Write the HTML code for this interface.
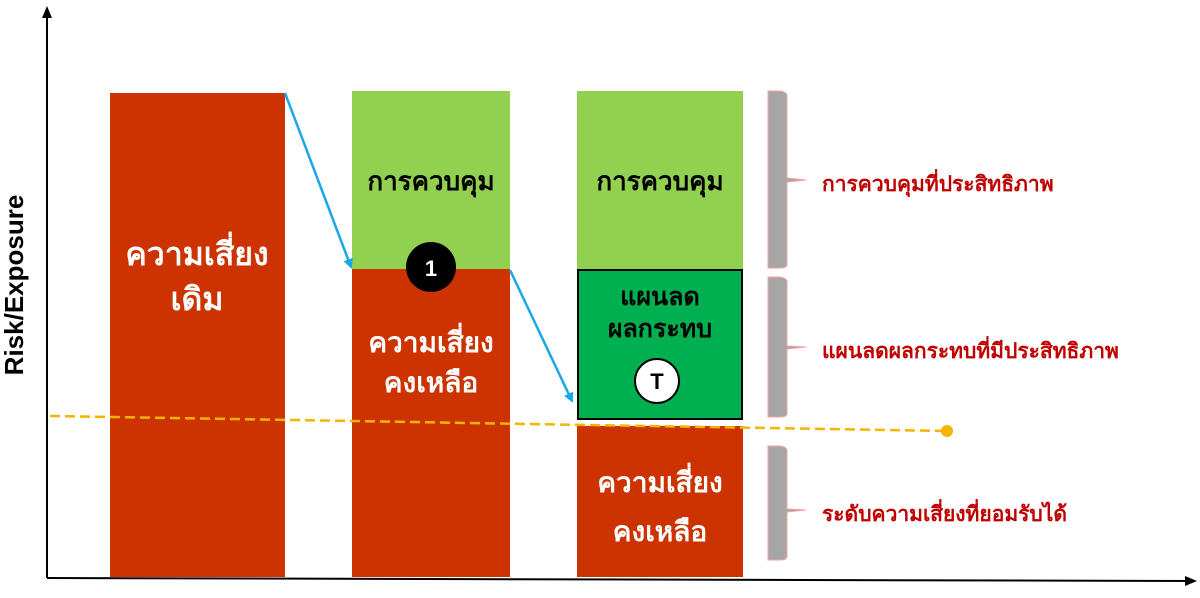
<!DOCTYPE html>
<html><head><meta charset="utf-8"><style>
body{margin:0;background:#fff;width:1200px;height:593px;overflow:hidden}
</style></head><body>
<svg width="1200" height="593" viewBox="0 0 1200 593" xmlns="http://www.w3.org/2000/svg" font-family="Liberation Sans, sans-serif">
<defs>
<marker id="ab" markerWidth="10" markerHeight="10" refX="8" refY="5" orient="auto" markerUnits="userSpaceOnUse"><path d="M0,0 L10,5 L0,10 z" fill="#1aa7e8"/></marker>
<marker id="ak" markerWidth="12" markerHeight="12" refX="10" refY="6" orient="auto" markerUnits="userSpaceOnUse"><path d="M0,1 L12,6 L0,11 z" fill="#000"/></marker>
</defs>
<!-- axes -->
<line x1="47" y1="578" x2="47" y2="8" stroke="#000" stroke-width="2" marker-end="url(#ak)"/>
<line x1="47" y1="578" x2="1195" y2="581" stroke="#000" stroke-width="2" marker-end="url(#ak)"/>
<text transform="translate(23,285) rotate(-90)" text-anchor="middle" font-size="26" font-weight="bold">Risk/Exposure</text>
<!-- bar1 -->
<rect x="110" y="93" width="175" height="484" fill="#cc3300"/>
<text x="197" y="265" text-anchor="middle" font-size="32" fill="#fff" font-weight="bold">ความเสี่ยง</text>
<text x="197" y="310" text-anchor="middle" font-size="32" fill="#fff" font-weight="bold">เดิม</text>
<!-- bar2 -->
<rect x="352" y="91" width="158" height="178" fill="#92d050"/>
<rect x="352" y="269" width="158" height="308" fill="#cc3300"/>
<text x="431" y="190" text-anchor="middle" font-size="26" fill="#000" font-weight="bold">การควบคุม</text>
<text x="431" y="352" text-anchor="middle" font-size="28" fill="#fff" font-weight="bold">ความเสี่ยง</text>
<text x="431" y="392" text-anchor="middle" font-size="28" fill="#fff" font-weight="bold">คงเหลือ</text>
<circle cx="431" cy="267" r="25" fill="#000"/>
<text x="431" y="276" text-anchor="middle" font-size="22" fill="#fff" font-weight="bold">1</text>
<!-- bar3 -->
<rect x="577" y="91" width="166" height="178" fill="#92d050"/>
<rect x="578" y="270" width="164" height="149" fill="#00b050" stroke="#000" stroke-width="2"/>
<rect x="577" y="426" width="166" height="151" fill="#cc3300"/>
<text x="660" y="190" text-anchor="middle" font-size="26" fill="#000" font-weight="bold">การควบคุม</text>
<text x="660" y="305" text-anchor="middle" font-size="25" fill="#000" font-weight="bold">แผนลด</text>
<text x="660" y="337" text-anchor="middle" font-size="25" fill="#000" font-weight="bold">ผลกระทบ</text>
<circle cx="657" cy="381" r="22" fill="#fff" stroke="#000" stroke-width="2"/>
<text x="657" y="389" text-anchor="middle" font-size="22" fill="#000" font-weight="bold">T</text>
<text x="660" y="492" text-anchor="middle" font-size="28" fill="#fff" font-weight="bold">ความเสี่ยง</text>
<text x="660" y="541" text-anchor="middle" font-size="28" fill="#fff" font-weight="bold">คงเหลือ</text>
<!-- arrows -->
<line x1="285" y1="93" x2="351" y2="267" stroke="#1aa7e8" stroke-width="2.5" marker-end="url(#ab)"/>
<line x1="510" y1="270" x2="572" y2="401" stroke="#1aa7e8" stroke-width="2.5" marker-end="url(#ab)"/>
<!-- dashed -->
<line x1="50" y1="416" x2="947" y2="431" stroke="#f5b400" stroke-width="2.5" stroke-dasharray="10,5"/>
<circle cx="947" cy="431" r="6" fill="#f5b400"/>
<!-- brackets -->
<g fill="#a6a6a6" stroke="#f4a0a0" stroke-width="1">
<path d="M768,91 L780,91 Q787,92 787,96 L787,178 L806,180 L787,182 L787,264 Q787,268 780,268 L768,268 z"/>
<path d="M768,277 L780,277 Q787,278 787,282 L787,346 L806,347 L787,349 L787,413 Q787,417 780,417 L768,417 z"/>
<path d="M768,446 L780,446 Q787,447 787,451 L787,509 L806,510 L787,512 L787,556 Q787,560 780,560 L768,560 z"/>
</g>
<g font-size="21" fill="#c00000" font-weight="bold">
<text x="822" y="191">การควบคุมที่ประสิทธิภาพ</text>
<text x="822" y="358">แผนลดผลกระทบที่มีประสิทธิภาพ</text>
<text x="822" y="521">ระดับความเสี่ยงที่ยอมรับได้</text>
</g>
</svg>
</body></html>
